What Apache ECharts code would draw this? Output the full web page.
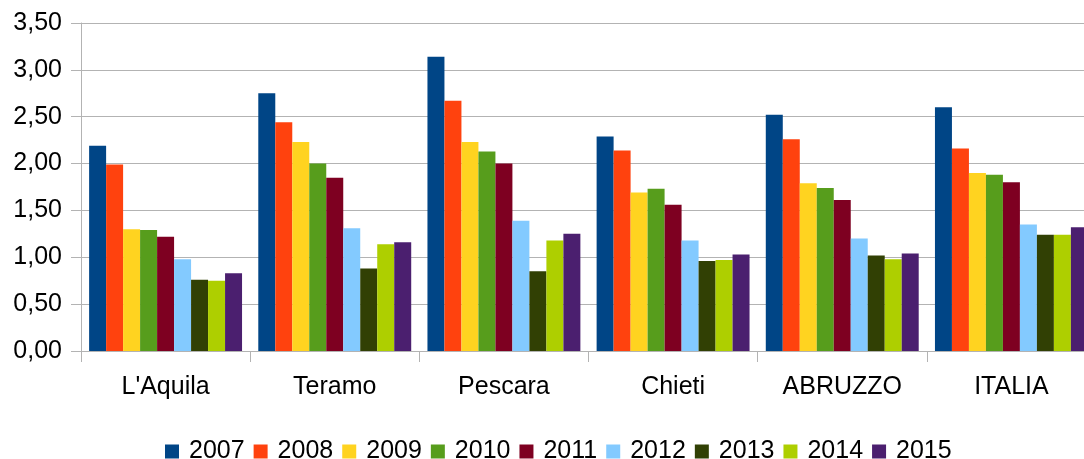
<!DOCTYPE html>
<html>
<head>
<meta charset="utf-8">
<script src="https://cdn.jsdelivr.net/npm/echarts@6/dist/echarts.min.js"></script>
<style>
  html, body { margin: 0; padding: 0; background: #ffffff; overflow: hidden; }
  #chart { width: 1084px; height: 459px; }
</style>
</head>
<body>
<div id="chart"></div>
<script>
// Provinces of Abruzzo compared with the regional and national figures
const categories = ["L'Aquila", "Teramo", "Pescara", "Chieti", "ABRUZZO", "ITALIA"];
const years = ["2007", "2008", "2009", "2010", "2011", "2012", "2013", "2014", "2015"];

// One array per year, values in category order
const v2007 = [2.19, 2.75, 3.14, 2.29, 2.52, 2.60];
const v2008 = [1.99, 2.44, 2.67, 2.14, 2.26, 2.16];
const v2009 = [1.30, 2.23, 2.23, 1.69, 1.79, 1.90];
const v2010 = [1.29, 2.00, 2.13, 1.73, 1.74, 1.88];
const v2011 = [1.22, 1.85, 2.00, 1.56, 1.61, 1.80];
const v2012 = [0.98, 1.31, 1.39, 1.18, 1.20, 1.35];
const v2013 = [0.76, 0.88, 0.85, 0.96, 1.02, 1.24];
const v2014 = [0.75, 1.14, 1.18, 0.97, 0.98, 1.24];
const v2015 = [0.83, 1.16, 1.25, 1.03, 1.04, 1.32];

const yearValues = [v2007, v2008, v2009, v2010, v2011, v2012, v2013, v2014, v2015];
const colors = ["#004586", "#ff420e", "#ffd320", "#579d1c", "#7e0021",
                "#83caff", "#314004", "#aecf00", "#4b1f6f"];

const FONT = "'Liberation Sans', Arial, sans-serif";
const axisGray = "#b3b3b3";

const chart = echarts.init(document.getElementById('chart'), null, { renderer: 'canvas' });

chart.setOption({
  animation: false,
  color: colors,
  textStyle: { fontFamily: FONT, color: '#000' },
  // plot area runs a little past the right edge of the canvas
  grid: {
    left: 81, width: 1015, top: 23, height: 328,
    containLabel: false,
    outerBoundsMode: 'none'
  },
  legend: {
    left: 160,
    top: 434,
    itemWidth: 14,
    itemHeight: 14,
    itemGap: 9,
    icon: 'rect',
    textStyle: { fontFamily: FONT, fontSize: 25, color: '#000', padding: [0, 0, 0, 5] },
    data: years
  },
  xAxis: {
    type: 'category',
    data: categories,
    axisLine: { lineStyle: { color: axisGray, width: 1 } },
    axisTick: { show: true, length: 11, lineStyle: { color: axisGray } },
    axisLabel: { fontFamily: FONT, fontSize: 25, color: '#000', margin: 24 },
    splitLine: { show: false }
  },
  yAxis: {
    type: 'value',
    min: 0,
    max: 3.5,
    interval: 0.5,
    axisLine: { show: true, lineStyle: { color: axisGray, width: 1 } },
    axisTick: { show: true, length: 10, lineStyle: { color: axisGray } },
    axisLabel: {
      fontFamily: FONT, fontSize: 25, color: '#000', margin: 19,
      formatter: v => v.toFixed(2).replace('.', ',')
    },
    splitLine: { show: true, lineStyle: { color: axisGray, width: 1 } }
  },
  series: years.map((y, i) => ({
    name: y,
    type: 'bar',
    data: yearValues[i],
    barGap: '0%',
    barCategoryGap: '9.6%',
    itemStyle: { color: colors[i] }
  }))
});
</script>
</body>
</html>
